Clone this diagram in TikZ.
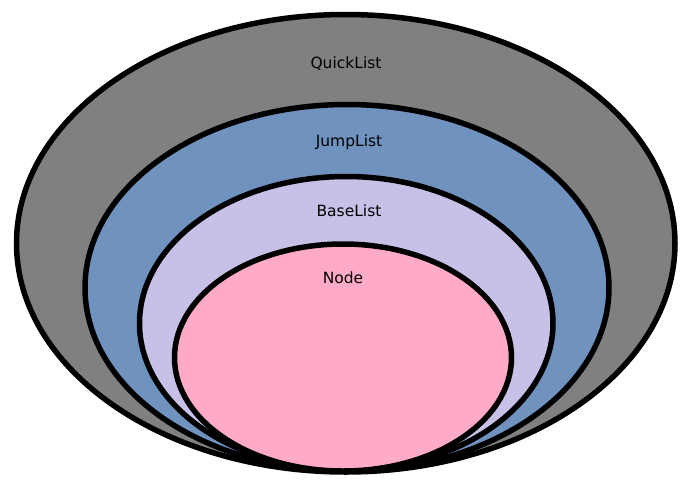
\documentclass[tikz,border=0pt]{standalone}
\usepackage{fontspec}
\setmainfont{DejaVu Sans}
\usetikzlibrary{shapes.geometric}
\definecolor{qgray}{HTML}{808080}
\definecolor{jblue}{HTML}{6F92BF}
\definecolor{blav}{HTML}{C8C0E6}
\definecolor{npink}{HTML}{FFAAC8}
\tikzset{
  ring/.style={ellipse, draw=black, line width=5.5pt, inner sep=0pt, outer sep=0pt},
  lbl/.style={anchor=base, inner sep=0pt, font=\fontsize{15.5}{18}\selectfont, text=black}
}
\begin{document}
\begin{tikzpicture}[x=1pt,y=-1pt]
\useasboundingbox (0,0) rectangle (689,483);
\node[ring, fill=qgray, minimum width=658.5pt, minimum height=457.5pt] (quick) at (345.75,243.25) {};
\node[ring, fill=jblue, minimum width=524pt, minimum height=366.5pt] (jump) at (347,287.75) {};
\node[ring, fill=blav, minimum width=413.5pt, minimum height=293.5pt] (base) at (346.25,323.25) {};
\node[ring, fill=npink, minimum width=337pt, minimum height=227pt] (nd) at (343,357.5) {};
\node[lbl] (tq) at (346,68) {QuickList};
\node[lbl] (tj) at (349,146) {JumpList};
\node[lbl] (tb) at (349,216.5) {BaseList};
\node[lbl] (tn) at (343,283) {Node};
\end{tikzpicture}
\end{document}
